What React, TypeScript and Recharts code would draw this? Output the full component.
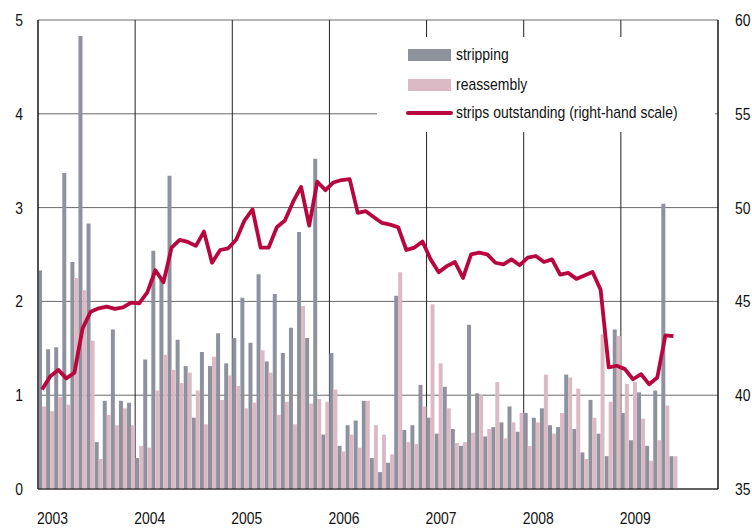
import React from "react";
import { ComposedChart, Bar, Line, XAxis, YAxis, CartesianGrid } from "recharts";

const FONT = "'Liberation Sans', Arial, sans-serif";
const NARROW = 0.82;
const GRAY = "#8e929d";
const PINK = "#dcbac5";
const RED = "#b8063e";

const startYear = 2003;
const yearTicks = [0, 12, 24, 36, 48, 60, 72, 84];
const leftTicks = [0, 1, 2, 3, 4, 5];
const rightTicks = [35, 40, 45, 50, 55, 60];

const stripping = [
  2.33, 1.49, 1.51, 3.37, 2.42, 4.83, 2.83, 0.5, 0.94, 1.7, 0.94, 0.92,
  0.33, 1.38, 2.54, 2.23, 3.34, 1.59, 1.31, 0.76, 1.46, 1.31, 1.66, 1.34,
  1.61, 2.04, 1.56, 2.29, 1.36, 2.08, 1.45, 1.72, 2.74, 1.61, 3.52, 0.58,
  1.45, 0.46, 0.68, 0.73, 0.94, 0.33, 0.18, 0.28, 2.06, 0.63, 0.68, 1.11,
  0.76, 0.59, 1.09, 0.64, 0.46, 1.75, 1.02, 0.56, 0.66, 0.71, 0.88, 0.61,
  0.81, 0.76, 0.86, 0.68, 0.66, 1.22, 0.64, 0.39, 0.95, 0.59, 0.35, 1.7,
  0.81, 0.52, 1.03, 0.46, 1.05, 3.04, 0.35,
];

const reassembly = [
  0.88, 0.83, 0.98, 0.9, 2.25, 2.12, 1.58, 0.32, 0.79, 0.68, 0.86, 0.68,
  0.46, 0.44, 1.05, 1.43, 1.27, 1.13, 1.24, 1.05, 0.69, 1.41, 0.95, 1.21,
  1.1, 0.86, 0.92, 1.48, 1.24, 0.79, 0.93, 0.69, 1.95, 0.91, 0.96, 0.93,
  1.06, 0.4, 0.58, 0.44, 0.94, 0.68, 0.58, 0.37, 2.31, 0.5, 0.48, 0.88,
  1.97, 1.34, 0.86, 0.49, 0.5, 0.6, 1.0, 0.64, 1.14, 0.54, 0.71, 0.81,
  0.46, 0.71, 1.22, 0.59, 0.81, 1.19, 1.07, 0.32, 0.76, 1.65, 0.93, 1.63,
  1.12, 1.14, 0.75, 0.3, 0.52, 0.89, 0.35,
];

const outstanding = [
  40.3, 41.0, 41.35, 40.9, 41.2, 43.55, 44.45, 44.63, 44.72, 44.6, 44.68, 44.94,
  44.9, 45.48, 46.66, 46.02, 47.87, 48.28, 48.17, 47.96, 48.72, 47.06, 47.74, 47.83,
  48.3, 49.31, 49.9, 47.87, 47.87, 48.95, 49.31, 50.3, 51.1, 49.04, 51.38, 50.93,
  51.34, 51.47, 51.52, 49.72, 49.81, 49.49, 49.18, 49.09, 48.95, 47.74, 47.87, 48.19,
  47.24, 46.55, 46.88, 47.1, 46.25, 47.51, 47.6, 47.51, 47.06, 46.97, 47.24, 46.93,
  47.33, 47.42, 47.1, 47.24, 46.43, 46.52, 46.2, 46.38, 46.57, 45.62, 41.48, 41.57,
  41.39, 40.85, 41.12, 40.58, 40.94, 43.19, 43.15,
];

const months = stripping.map((_, i) => {
  const y = startYear + Math.floor(i / 12);
  const m = (i % 12) + 1;
  return `${y}-${m < 10 ? "0" + m : m}`;
});

const data = months.map((month, i) => ({
  month,
  x: i + 0.5,
  stripping: stripping[i],
  reassembly: reassembly[i],
  outstanding: outstanding[i],
}));

const NarrowText = ({ x, y, anchor, children }: any) => (
  <text
    transform={`translate(${x},${y}) scale(${NARROW},1)`}
    x={0}
    y={0}
    dy="0.35em"
    textAnchor={anchor}
    fontSize={17}
    fill="#111"
    fontFamily={FONT}
  >
    {children}
  </text>
);

const LeftTick = (props: any) => {
  const { x, y, payload } = props;
  return <NarrowText x={x - 15} y={y} anchor="end">{payload.value}</NarrowText>;
};

const RightTick = (props: any) => {
  const { x, y, payload } = props;
  return <NarrowText x={x + 17} y={y} anchor="start">{payload.value}</NarrowText>;
};

const XTick = (props: any) => {
  const { x, y, payload } = props;
  if (payload.value >= 84) return <g />;
  return <NarrowText x={x - 1} y={y + 29} anchor="start">{startYear + payload.value / 12}</NarrowText>;
};

const legendItems = [
  { label: "stripping", kind: "bar", color: GRAY },
  { label: "reassembly", kind: "bar", color: PINK },
  { label: "strips outstanding (right-hand scale)", kind: "line", color: RED },
];

export default function App() {
  return (
    <div style={{ position: "absolute", left: 0, top: 0, width: 752, height: 530, background: "#fff", fontFamily: FONT }}>
      <ComposedChart
        width={752}
        height={530}
        data={data}
        margin={{ top: 20, right: 0, bottom: 0, left: 0 }}
        barGap={0}
        barCategoryGap={0}
      >
        <CartesianGrid yAxisId="left" horizontal={true} vertical={false} stroke="#6a6a6a" strokeWidth={1} />
        <CartesianGrid yAxisId="left" horizontal={false} vertical={true} stroke="#222" strokeWidth={1} />
        <XAxis
          dataKey="x"
          type="number"
          domain={[0, 84]}
          ticks={yearTicks}
          interval={0}
          height={41}
          axisLine={{ stroke: "#111" }}
          tickLine={false}
          tickSize={0}
          tickMargin={0}
          tick={<XTick />}
        />
        <YAxis
          yAxisId="left"
          width={38}
          domain={[0, 5]}
          ticks={leftTicks}
          interval={0}
          axisLine={{ stroke: "#111" }}
          tickLine={false}
          tickSize={0}
          tickMargin={0}
          tick={<LeftTick />}
        />
        <YAxis
          yAxisId="right"
          orientation="right"
          width={34}
          domain={[35, 60]}
          ticks={rightTicks}
          interval={0}
          axisLine={{ stroke: "#111" }}
          tickLine={false}
          tickSize={0}
          tickMargin={0}
          tick={<RightTick />}
        />
        <Bar yAxisId="left" dataKey="stripping" fill={GRAY} barSize={4} isAnimationActive={false} />
        <Bar yAxisId="left" dataKey="reassembly" fill={PINK} barSize={4} isAnimationActive={false} />
        <Line
          yAxisId="right"
          dataKey="outstanding"
          stroke={RED}
          strokeWidth={3.8}
          dot={false}
          type="linear"
          strokeLinejoin="round"
          isAnimationActive={false}
        />
      </ComposedChart>
      <div
        style={{
          position: "absolute",
          left: 377,
          top: 37,
          width: 338,
          height: 95,
          background: "#fff",
        }}
      >
        {legendItems.map((item, k) => {
          const cy = [17.5, 48, 76][k];
          return (
            <div key={item.label}>
              {item.kind === "bar" ? (
                <div style={{ position: "absolute", left: 31, top: cy - 6, width: 43, height: 12, background: item.color }} />
              ) : (
                <div style={{ position: "absolute", left: 29, top: cy - 1.9, width: 47, height: 3.8, borderRadius: 2, background: item.color }} />
              )}
              <div
                style={{
                  position: "absolute",
                  left: 79,
                  top: cy - 11,
                  height: 22,
                  lineHeight: "22px",
                  fontSize: 17,
                  color: "#111",
                  whiteSpace: "nowrap",
                  transform: `scaleX(${NARROW})`,
                  transformOrigin: "left center",
                }}
              >
                {item.label}
              </div>
            </div>
          );
        })}
      </div>
    </div>
  );
}
